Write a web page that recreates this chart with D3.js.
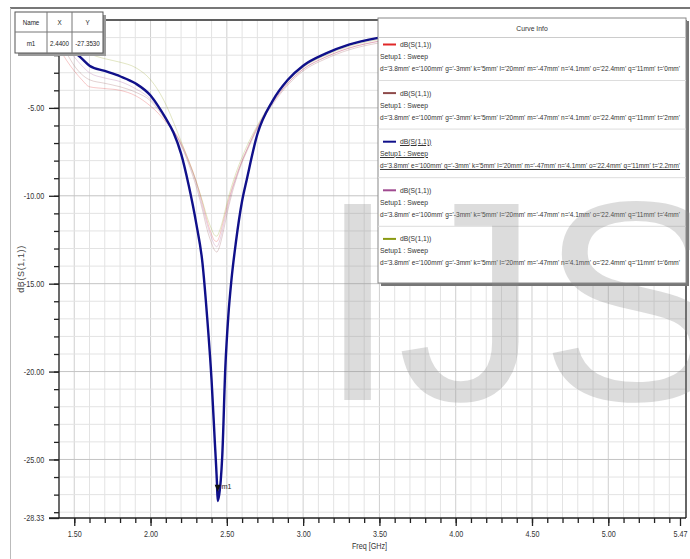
<!DOCTYPE html>
<html>
<head>
<meta charset="utf-8">
<script src="https://cdn.jsdelivr.net/npm/d3@7"></script>
<style>
  body { margin: 0; background: #fff; }
  svg text { font-family: "Liberation Sans", Arial, sans-serif; }
</style>
</head>
<body>
<div class="chart"></div>
<script>
// data
const freq = [1.40, 1.45, 1.50, 1.55, 1.60, 1.70, 1.80, 1.90, 2.00, 2.05, 2.10, 2.15, 2.20, 2.25, 2.30,
    2.34, 2.37, 2.40, 2.42, 2.435, 2.44, 2.45, 2.46, 2.47, 2.49, 2.51, 2.53, 2.56, 2.60, 2.63, 2.70,
    2.80, 2.90, 3.00, 3.15, 3.30, 3.50, 3.75, 4.00, 4.50, 5.00, 5.47];

const s11_t0 = [-1.6, -2.3, -2.9, -3.4, -3.8, -3.9, -4.0, -4.3, -4.9, -5.3, -5.8, -6.3, -7.0, -8.0, -9.2,
    -10.4, -11.4, -12.2, -12.55, -12.6, -12.55, -12.35, -12.05, -11.7, -11.0, -10.3, -9.7, -8.9, -8.0, -7.4, -6.1,
    -4.7, -3.6, -2.8, -2.1, -1.6, -1.2, -0.9, -0.7, -0.5, -0.5, -0.6];
const s11_t2 = [-1.3, -1.9, -2.6, -3.1, -3.4, -3.6, -3.8, -4.1, -4.6, -5.1, -5.7, -6.3, -7.1, -8.2, -9.5,
    -10.8, -11.9, -12.7, -13.1, -13.2, -13.15, -12.95, -12.65, -12.3, -11.5, -10.7, -10.0, -9.1, -8.1, -7.5, -6.2,
    -4.8, -3.7, -2.9, -2.2, -1.7, -1.3, -1.0, -0.8, -0.6, -0.6, -0.7];
const s11_t22 = [-0.9, -1.3, -1.8, -2.2, -2.6, -2.9, -3.2, -3.6, -4.3, -4.9, -5.6, -6.4, -7.6, -9.4, -11.6,
    -13.8, -16.8, -20.5, -23.8, -26.3, -27.36, -27.0, -26.2, -24.8, -19.8, -16.8, -14.8, -12.6, -10.3, -9.1, -6.5,
    -4.6, -3.4, -2.6, -1.9, -1.4, -1.0, -0.7, -0.5, -0.3, -0.3, -0.4];
const s11_t4 = [-1.0, -1.5, -2.1, -2.6, -3.0, -3.3, -3.5, -3.9, -4.5, -5.0, -5.6, -6.3, -7.1, -8.1, -9.3,
    -10.6, -11.6, -12.4, -12.8, -12.9, -12.85, -12.65, -12.35, -12.0, -11.2, -10.5, -9.8, -9.0, -8.0, -7.4, -6.1,
    -4.7, -3.6, -2.8, -2.1, -1.6, -1.2, -0.9, -0.7, -0.5, -0.5, -0.6];
const s11_t6 = [-0.8, -1.0, -1.3, -1.6, -1.9, -2.2, -2.4, -2.7, -3.4, -4.0, -4.8, -5.8, -6.9, -8.0, -9.2,
    -10.3, -11.2, -11.9, -12.25, -12.3, -12.25, -12.05, -11.8, -11.5, -10.8, -10.1, -9.5, -8.7, -7.8, -7.2, -6.0,
    -4.6, -3.5, -2.7, -2.0, -1.5, -1.1, -0.8, -0.6, -0.4, -0.4, -0.5];

const tValues = ['0mm', '2mm', '2.2mm', '4mm', '6mm'];
const seriesColors = ['#e02828', '#8e4a4a', '#10108a', '#a04a90', '#8a9a12'];
const xTickValues = [1.5, 2.0, 2.5, 3.0, 3.5, 4.0, 4.5, 5.0, 5.47];
const yTickValues = [0, -5, -10, -15, -20, -25, -28.33];
const marker = { name: 'm1', x: 2.44, y: -27.353 };

const series = [s11_t0, s11_t2, s11_t22, s11_t4, s11_t6].map((vals, i) => ({
    t: tValues[i],
    color: seriesColors[i],
    points: freq.map((f, j) => ({ f: f, db: vals[j] }))
}));

// helpers
const fmt2 = d => d3.format('.2f')(d).replace('\u2212', '-');

// squeeze text horizontally to look like a narrow font
function narrow(sel, k) {
    sel.each(function () {
        const len = this.getComputedTextLength();
        if (len > 0) {
            d3.select(this).attr('textLength', len * k).attr('lengthAdjust', 'spacingAndGlyphs');
        }
    });
}

// sizes
const W = 690, H = 559;
const plot = { left: 59, right: 680, top: 20, bottom: 518 };

const svg = d3.select('.chart')
    .append('svg')
    .attr('width', W)
    .attr('height', H);

const xScale = d3.scaleLinear().domain([1.4, 5.47]).range([plot.left, plot.right]);
const yScale = d3.scaleLinear().domain([-28.33, 0]).range([plot.bottom, plot.top]);

// outer frame
svg.append('line').attr('x1', 10).attr('x2', W).attr('y1', 8).attr('y2', 8)
    .attr('stroke', '#777').attr('stroke-width', 2);
svg.append('line').attr('x1', 10.5).attr('x2', 10.5).attr('y1', 8).attr('y2', H)
    .attr('stroke', '#bbb');

// grid
const grid = svg.append('g').attr('class', 'grid');
const vLines = d3.range(14, 55).map(d => d / 10);
grid.selectAll('.vgrid')
    .data(vLines)
    .enter()
    .append('line')
        .attr('x1', d => xScale(d)).attr('x2', d => xScale(d))
        .attr('y1', plot.top).attr('y2', plot.bottom)
        .attr('stroke', d => (Math.round(d * 10) % 5 === 0 ? '#cfcfcf' : '#e3e3e3'));
const hLines = d3.range(0, 29).map(d => -d);
grid.selectAll('.hgrid')
    .data(hLines)
    .enter()
    .append('line')
        .attr('x1', plot.left).attr('x2', 686)
        .attr('y1', d => yScale(d)).attr('y2', d => yScale(d))
        .attr('stroke', d => (d % 5 === 0 ? '#c4c4c4' : '#e3e3e3'));

// plot border top/right
svg.append('line').attr('x1', plot.left).attr('x2', 686).attr('y1', plot.top).attr('y2', plot.top)
    .attr('stroke', '#333').attr('stroke-width', 1.5);
svg.append('line').attr('x1', 686).attr('x2', 686).attr('y1', plot.top).attr('y2', plot.bottom)
    .attr('stroke', '#333').attr('stroke-width', 1.5);

// axes
const yAxis = d3.axisLeft(yScale)
    .tickValues(yTickValues)
    .tickFormat(fmt2)
    .tickSizeInner(10)
    .tickSizeOuter(0);
const yAxisDraw = svg.append('g')
    .attr('class', 'y axis')
    .attr('transform', `translate(${plot.left}, 0)`)
    .call(yAxis);

const yMinor = d3.axisLeft(yScale).tickValues(d3.range(1, 29).map(d => -d)).tickSize(5).tickFormat('');
svg.append('g').attr('transform', `translate(${plot.left}, 0)`).call(yMinor)
    .call(g => g.select('.domain').remove());

const xAxis = d3.axisBottom(xScale)
    .tickValues(xTickValues)
    .tickFormat(fmt2)
    .tickSizeInner(8)
    .tickSizeOuter(0);
const xAxisDraw = svg.append('g')
    .attr('class', 'x axis')
    .attr('transform', `translate(0, ${plot.bottom})`)
    .call(xAxis);

const xMinor = d3.axisBottom(xScale).tickValues(d3.range(15, 55).map(d => d / 10)).tickSize(5).tickFormat('');
svg.append('g').attr('transform', `translate(0, ${plot.bottom})`).call(xMinor)
    .call(g => g.select('.domain').remove());

svg.selectAll('.axis .domain, .tick line').attr('stroke', '#222').attr('stroke-width', 1.3);
yAxisDraw.select('.domain').attr('d', `M0,${plot.top}V${plot.bottom}`);
xAxisDraw.select('.domain').attr('d', `M${plot.left - 10},0H686`);
svg.selectAll('.axis text').attr('font-size', 9).attr('fill', '#333');
yAxisDraw.selectAll('text').attr('dx', '-0.2em');
xAxisDraw.selectAll('text').attr('dy', '0.9em');
narrow(svg.selectAll('.axis text'), 0.8);

const xLabel = svg.append('text')
    .attr('x', (plot.left + plot.right) / 2)
    .attr('y', 549)
    .attr('text-anchor', 'middle')
    .attr('font-size', 9)
    .attr('fill', '#333')
    .text('Freq [GHz]');
narrow(xLabel, 0.8);

svg.append('text')
    .attr('transform', `translate(24, ${(plot.top + plot.bottom) / 2}) rotate(-90)`)
    .attr('text-anchor', 'middle')
    .attr('font-size', 9)
    .attr('fill', '#444')
    .attr('letter-spacing', 0.6)
    .text('dB(S(1,1))');

// curves
const line = d3.line()
    .x(d => xScale(d.f))
    .y(d => yScale(d.db))
    .curve(d3.curveMonotoneX);

const curves = svg.append('g').attr('class', 'curves');
series.filter(s => s.t !== '2.2mm').forEach(s => {
    curves.append('path')
        .datum(s.points)
        .attr('d', line)
        .attr('fill', 'none')
        .attr('stroke', s.color)
        .attr('stroke-opacity', 0.25)
        .attr('stroke-width', 1);
});
const selected = series.find(s => s.t === '2.2mm');
curves.append('path')
    .datum(selected.points)
    .attr('d', line)
    .attr('fill', 'none')
    .attr('stroke', selected.color)
    .attr('stroke-width', 2.4);

// marker
const mx = xScale(marker.x), my = yScale(marker.y);
svg.append('path')
    .attr('d', `M${mx - 3},${my - 16}L${mx + 3},${my - 16}L${mx},${my - 9}Z`)
    .attr('fill', '#111');
svg.append('text')
    .attr('x', mx + 4).attr('y', my - 12)
    .attr('font-size', 7)
    .attr('fill', '#222')
    .text(marker.name);

// marker table
const table = svg.append('g').attr('class', 'marker-table');
table.append('rect').attr('x', 18).attr('y', 15).attr('width', 88).attr('height', 41).attr('fill', '#9a9a9a');
table.append('rect').attr('x', 15).attr('y', 12).attr('width', 88).attr('height', 41)
    .attr('fill', '#fff').attr('stroke', '#555');
table.append('line').attr('x1', 15).attr('x2', 103).attr('y1', 32).attr('y2', 32).attr('stroke', '#777');
[47, 72].forEach(x => table.append('line').attr('x1', x).attr('x2', x).attr('y1', 12).attr('y2', 53).attr('stroke', '#777'));
const tableCells = [
    { x: 31, y: 25, t: 'Name' }, { x: 59.5, y: 25, t: 'X' }, { x: 87.5, y: 25, t: 'Y' },
    { x: 31, y: 46, t: marker.name }, { x: 59.5, y: 46, t: marker.x.toFixed(4) }, { x: 87.5, y: 46, t: marker.y.toFixed(4) }
];
const cells = table.selectAll('.cell')
    .data(tableCells)
    .enter()
    .append('text')
        .attr('x', d => d.x).attr('y', d => d.y)
        .attr('text-anchor', 'middle')
        .attr('font-size', 8)
        .attr('fill', '#222')
        .text(d => d.t);
narrow(cells, 0.78);

// curve info legend
const lg = svg.append('g').attr('class', 'legend');
const lgX = 378, lgY = 18, lgW = 308, lgH = 265;
lg.append('rect').attr('x', lgX + 3).attr('y', lgY + 3).attr('width', lgW).attr('height', lgH).attr('fill', '#777');
lg.append('rect').attr('x', lgX).attr('y', lgY).attr('width', lgW).attr('height', lgH)
    .attr('fill', '#fff').attr('stroke', '#888');
lg.append('text').attr('x', lgX + lgW / 2).attr('y', 31).attr('text-anchor', 'middle')
    .attr('font-size', 8).attr('fill', '#333').text('Curve Info');
lg.append('line').attr('x1', lgX).attr('x2', lgX + lgW).attr('y1', 37.5).attr('y2', 37.5).attr('stroke', '#ccc');

const paramText = t => `d='3.8mm' e='100mm' g='-3mm' k='5mm' l='20mm' m='-47mm' n='4.1mm' o='22.4mm' q='11mm' t='${t}'`;
series.forEach((s, i) => {
    const y0 = 47 + i * 48.6;
    const g = lg.append('g').attr('text-decoration', s.t === '2.2mm' ? 'underline' : null);
    g.append('line').attr('x1', 383).attr('x2', 396).attr('y1', y0 - 2.5).attr('y2', y0 - 2.5)
        .attr('stroke', s.color).attr('stroke-width', 2);
    g.append('text').attr('x', 400).attr('y', y0).attr('font-size', 8).attr('fill', '#333').text('dB(S(1,1))');
    g.append('text').attr('x', 380).attr('y', y0 + 12).attr('font-size', 8).attr('fill', '#333').text('Setup1 : Sweep');
    g.append('text').attr('x', 380).attr('y', y0 + 24).attr('font-size', 7.5).attr('fill', '#333')
        .attr('textLength', 300).attr('lengthAdjust', 'spacingAndGlyphs').text(paramText(s.t));
    if (i < series.length - 1) {
        lg.append('line').attr('x1', lgX).attr('x2', lgX + lgW).attr('y1', y0 + 33.5).attr('y2', y0 + 33.5).attr('stroke', '#ddd');
    }
});
narrow(lg.selectAll('text:not([textLength])'), 0.85);

// watermark
svg.append('text')
    .attr('x', 318)
    .attr('y', 400)
    .attr('font-size', 285)
    .attr('fill', '#8c8c8c')
    .attr('fill-opacity', 0.3)
    .text('IJS');
</script>
</body>
</html>
